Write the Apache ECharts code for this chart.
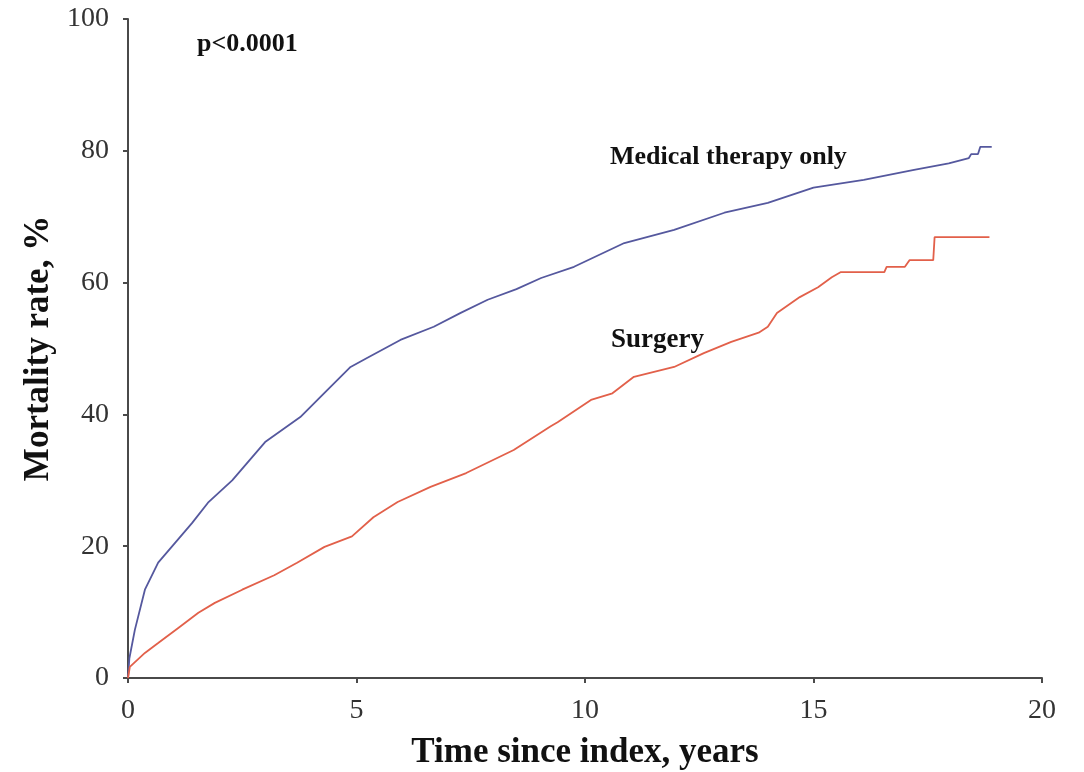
<!DOCTYPE html>
<html><head><meta charset="utf-8">
<script src="https://cdn.jsdelivr.net/npm/echarts@6/dist/echarts.min.js"></script>
<style>html,body{margin:0;padding:0;background:#fff}#c{width:1084px;height:772px}</style>
</head><body><div id="c"></div>
<script>
const medT = [0, 0.03, 0.15, 0.37, 0.66, 1.03, 1.4, 1.75, 2.28, 3.0, 3.77, 4.36, 4.87, 5.24, 5.96, 6.69, 7.28, 7.87, 8.5, 9.04, 9.76, 10.86, 11.95, 13.05, 14.0, 15.0, 16.1, 17.2, 17.96, 18.4, 18.45, 18.6, 18.65, 18.9];
const medV = [0, 3, 7.3, 13.4, 17.5, 20.5, 23.5, 26.6, 30, 35.8, 39.6, 43.7, 47.2, 48.6, 51.3, 53.3, 55.4, 57.4, 59, 60.7, 62.4, 66, 68, 70.6, 72.1, 74.4, 75.6, 77.1, 78.1, 78.9, 79.5, 79.5, 80.6, 80.6];
const surT = [0, 0.04, 0.37, 0.66, 1.1, 1.54, 1.9, 2.5, 3.2, 3.7, 4.3, 4.9, 5.37, 5.9, 6.62, 7.4, 8.44, 9.25, 9.4, 10.13, 10.6, 11.07, 11.95, 12.6, 13.2, 13.8, 14.0, 14.2, 14.7, 15.1, 15.4, 15.6, 16.55, 16.6, 17.0, 17.1, 17.62, 17.65, 18.85];
const surV = [0, 1.7, 3.8, 5.3, 7.6, 9.9, 11.4, 13.4, 15.6, 17.5, 19.9, 21.5, 24.4, 26.7, 29, 31.1, 34.6, 38.2, 38.8, 42.2, 43.2, 45.7, 47.2, 49.3, 51, 52.4, 53.3, 55.4, 57.8, 59.3, 60.8, 61.6, 61.6, 62.4, 62.4, 63.4, 63.4, 66.9, 66.9];
const seriesNames = ['Medical therapy only', 'Surgery'];
const annotation = 'p<0.0001';

const zip = (a, b) => a.map((t, i) => [t, b[i]]);
const chart = echarts.init(document.getElementById('c'));
const axisCol = '#4a4a4a';
const serif = '"Liberation Serif", "DejaVu Serif", serif';
chart.setOption({
  animation: false,
  backgroundColor: '#fff',
  grid: { left: 128, right: 42, top: 19, bottom: 94, containLabel: false, outerBoundsMode: 'none' },
  xAxis: {
    type: 'value', min: 0, max: 20, interval: 5,
    name: 'Time since index, years', nameLocation: 'middle', nameGap: 57,
    nameTextStyle: { fontFamily: serif, fontWeight: 'bold', fontSize: 35, color: '#111' },
    axisLine: { lineStyle: { color: axisCol, width: 2 } },
    axisTick: { show: true, length: 5, lineStyle: { color: axisCol, width: 2 } },
    axisLabel: { fontFamily: serif, fontSize: 28, color: '#333', margin: 19 },
    splitLine: { show: false }
  },
  yAxis: {
    type: 'value', min: 0, max: 100, interval: 20,
    name: 'Mortality rate, %', nameLocation: 'middle', nameGap: 70,
    nameTextStyle: { fontFamily: serif, fontWeight: 'bold', fontSize: 35, color: '#111' },
    axisLine: { show: true, lineStyle: { color: axisCol, width: 2 } },
    axisTick: { show: true, length: 5, lineStyle: { color: axisCol, width: 2 } },
    axisLabel: { fontFamily: serif, fontSize: 28, color: '#333', margin: 19 },
    splitLine: { show: false }
  },
  series: [
    { name: seriesNames[0], type: 'line', data: zip(medT, medV), showSymbol: false,
      lineStyle: { color: '#55589e', width: 1.8 }, smooth: false },
    { name: seriesNames[1], type: 'line', data: zip(surT, surV), showSymbol: false,
      lineStyle: { color: '#e2604a', width: 1.8 }, smooth: false }
  ],
  graphic: [
    { type: 'text', left: 197, top: 31, style: { text: annotation, font: 'bold 26px ' + serif, fill: '#111' } },
    { type: 'text', left: 610, top: 144, style: { text: seriesNames[0], font: 'bold 26px ' + serif, fill: '#111' } },
    { type: 'text', left: 611, top: 327, style: { text: seriesNames[1], font: 'bold 27px ' + serif, fill: '#111' } }
  ]
});
</script></body></html>
